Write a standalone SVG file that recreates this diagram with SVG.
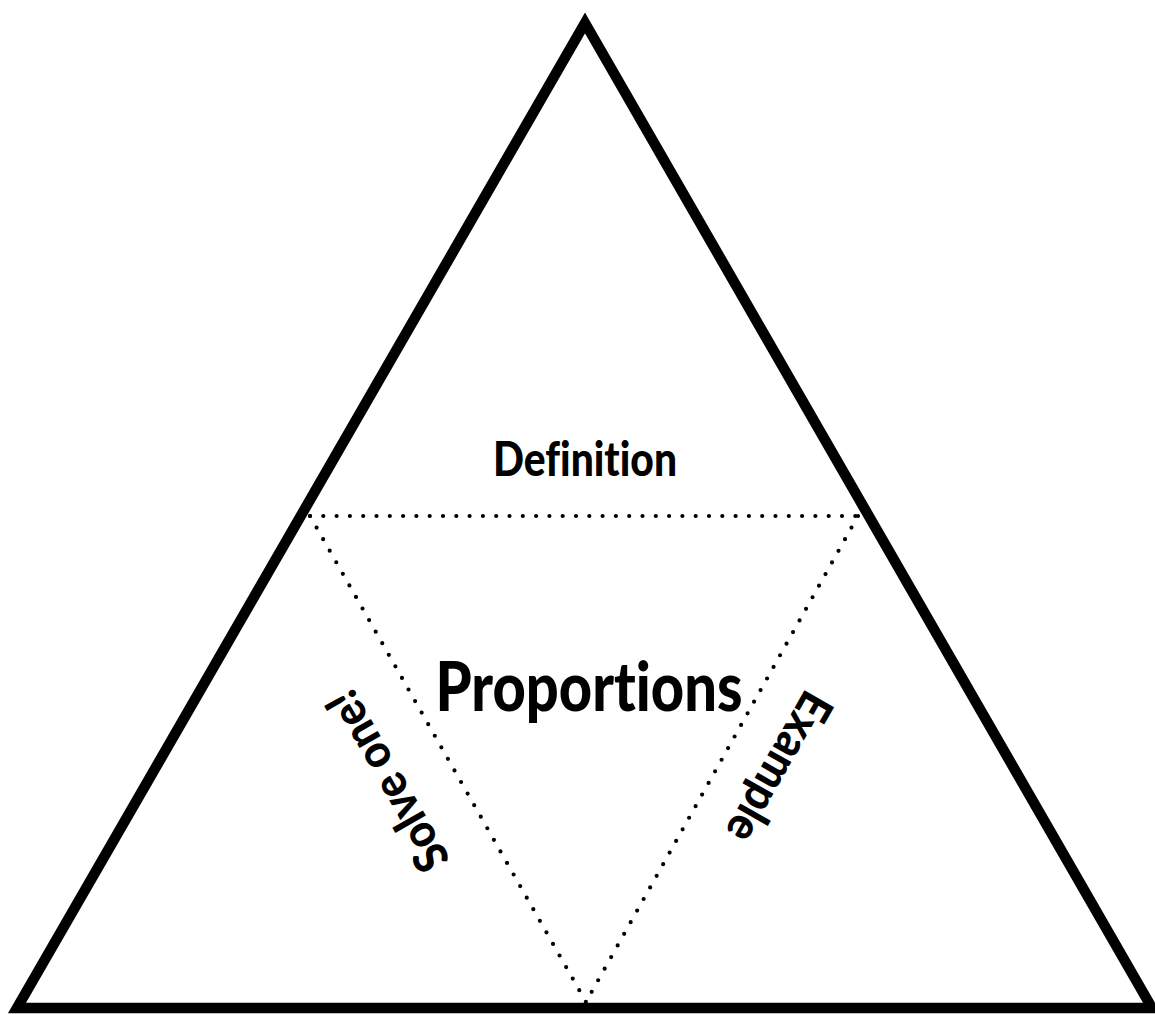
<svg xmlns="http://www.w3.org/2000/svg" width="1155" height="1014" viewBox="0 0 1155 1014">
<style>
.lbl{font-family:"Lato","Liberation Sans",sans-serif;font-weight:900;fill:#000;text-anchor:middle;dominant-baseline:central;font-variant-ligatures:none;font-feature-settings:"liga" 0,"dlig" 0}
.dot{fill:none;stroke:#000;stroke-width:4.2;stroke-linecap:round;stroke-dasharray:0 13.3}
</style>
<rect width="1155" height="1014" fill="#fff"/>
<g id="outer-triangle">
<polygon points="585,23 1152,1008 17,1008" fill="none" stroke="#000" stroke-width="10.5" stroke-linejoin="miter"/>
</g>
<g id="connectors">
<line class="dot" x1="310" y1="516" x2="858" y2="516"/>
<line class="dot" x1="310" y1="516" x2="586" y2="1002"/>
<line class="dot" x1="858" y1="516" x2="586" y2="1002"/>
</g>
<g id="definition">
<text class="lbl" x="585" y="458" font-size="47" textLength="184" lengthAdjust="spacingAndGlyphs">Definition</text>
</g>
<g id="proportions">
<text class="lbl" x="589" y="684" font-size="68" textLength="307" lengthAdjust="spacingAndGlyphs">Proportions</text>
</g>
<g id="solve-one">
<text class="lbl" x="0" y="0" font-size="47" textLength="200" lengthAdjust="spacingAndGlyphs" transform="translate(386,782) rotate(240.4)">Solve one!</text>
</g>
<g id="example">
<text class="lbl" x="0" y="0" font-size="47" textLength="165" lengthAdjust="spacingAndGlyphs" transform="translate(781,768) rotate(119.6)">Example</text>
</g>
</svg>
